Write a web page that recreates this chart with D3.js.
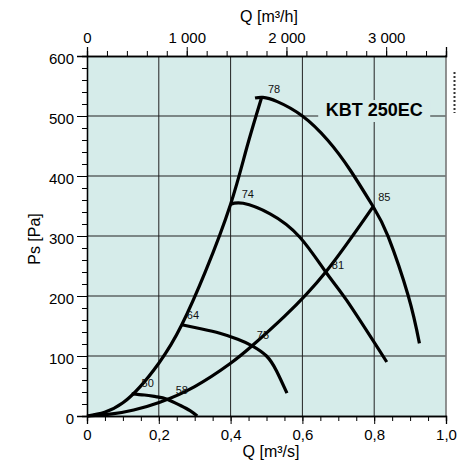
<!DOCTYPE html>
<html>
<head>
<meta charset="utf-8">
<script src="https://cdn.jsdelivr.net/npm/d3@7"></script>
<style>
  html, body { margin: 0; padding: 0; background: #ffffff; }
  svg { display: block; font-family: "Liberation Sans", Arial, sans-serif; }
</style>
</head>
<body>
<svg id="chart" width="457" height="463"></svg>
<script>
// ---- data ----
const xTickValues = [0, 0.2, 0.4, 0.6, 0.8, 1.0];
const xTickLabels = ["0", "0,2", "0,4", "0,6", "0,8", "1,0"];
const yTickValues = [0, 100, 200, 300, 400, 500, 600];
const topTickValues = [0, 1000, 2000, 3000];
const topTickLabels = ["0", "1 000", "2 000", "3 000"];

// system curves (Q m³/s, Ps Pa)
const sysHighQ = [0, 0.1, 0.2, 0.264, 0.33, 0.40, 0.445, 0.486];
const sysHighP = [0, 22, 88, 152, 241, 353, 447, 530];
const sysLowQ = [0, 0.07, 0.13, 0.203, 0.3, 0.398, 0.46, 0.55, 0.665, 0.797];
const sysLowP = [0, 3.5, 10, 23, 49, 87, 117, 166, 240, 349];

// fan curves
const fan50Q = [0.1245, 0.16, 0.194, 0.223, 0.259, 0.287, 0.307];
const fan50P = [37, 35, 32, 28, 18, 9, 0];
const fan64Q = [0.264, 0.32, 0.37, 0.42, 0.46, 0.5, 0.528, 0.557];
const fan64P = [152, 145, 138, 128, 117, 100, 75, 38];
const fan74Q = [0.400, 0.435, 0.51, 0.593, 0.665, 0.723, 0.835];
const fan74P = [353, 354.5, 337, 298, 240, 193, 90];
const fan78Q = [0.468, 0.49, 0.53, 0.6, 0.67, 0.733, 0.797, 0.839, 0.895, 0.926];
const fan78P = [530, 531, 524, 500, 460, 410, 349, 299, 200, 121];

// point labels (sound levels) anchored in data units
const labelText = ["78", "85", "74", "81", "64", "75", "50", "58"];
const labelQ = [0.504, 0.811, 0.431, 0.682, 0.278, 0.473, 0.152, 0.247];
const labelP = [538, 359, 363, 244.5, 161, 128, 48, 37];

const modelName = "KBT 250EC";
const modelQ = 0.8, modelP = 500;

// ---- drawing ----
const svg = d3.select("#chart");
const x = d3.scaleLinear().domain([0, 1]).range([87, 446]);
const y = d3.scaleLinear().domain([0, 600]).range([416, 56]);
const xTop = d3.scaleLinear().domain([0, 3600]).range([87, 446]);

const bg = "#d6ecea";
const ink = "#000";

// background
svg.append("rect")
  .attr("x", x(0)).attr("y", y(600))
  .attr("width", x(1) - x(0)).attr("height", y(0) - y(600))
  .attr("fill", bg);

// grid
const grid = svg.append("g").attr("stroke", "#222").attr("stroke-width", 1);
[100, 200, 300, 400, 500].forEach(v => {
  grid.append("line").attr("x1", x(0)).attr("x2", x(1)).attr("y1", y(v)).attr("y2", y(v));
});
[0.2, 0.4, 0.6, 0.8].forEach(v => {
  grid.append("line").attr("x1", x(v)).attr("x2", x(v)).attr("y1", y(600)).attr("y2", y(0));
});
// right border
svg.append("line").attr("x1", x(1)).attr("x2", x(1)).attr("y1", y(600) - 1).attr("y2", y(0))
  .attr("stroke", "#777").attr("stroke-width", 1.6);

// axes
const bottomMinor = d3.range(0, 1.0001, 0.05);
const leftMinor = d3.range(0, 600.001, 20);
const topMinor = d3.range(0, 3600.001, 200);

const axB = d3.axisBottom(x).tickValues(xTickValues).tickSize(8).tickPadding(8)
  .tickFormat((d, i) => xTickLabels[i]);
const gB = svg.append("g").attr("transform", `translate(0,${y(0)})`).call(axB);
const axBm = d3.axisBottom(x).tickValues(bottomMinor).tickSize(5).tickFormat("");
svg.append("g").attr("transform", `translate(0,${y(0)})`).call(axBm);

const axL = d3.axisLeft(y).tickValues(yTickValues).tickSize(10).tickPadding(3);
const gL = svg.append("g").attr("transform", `translate(${x(0)},0)`).call(axL);
const axLm = d3.axisLeft(y).tickValues(leftMinor).tickSize(5).tickFormat("");
svg.append("g").attr("transform", `translate(${x(0)},0)`).call(axLm);

const axT = d3.axisTop(xTop).tickValues(topTickValues).tickSize(9).tickPadding(0)
  .tickFormat((d, i) => topTickLabels[i]);
const gT = svg.append("g").attr("transform", `translate(0,${y(600)})`).call(axT);
const axTm = d3.axisTop(xTop).tickValues(topMinor).tickSize(5).tickFormat("");
svg.append("g").attr("transform", `translate(0,${y(600)})`).call(axTm);

svg.selectAll(".domain").attr("stroke", ink).attr("stroke-width", 1.3);
svg.selectAll(".tick line").attr("stroke", ink).attr("stroke-width", 1);
svg.selectAll(".tick text").attr("font-size", 15).attr("fill", ink)
  .attr("font-family", "'Liberation Sans', Arial, sans-serif");
gL.selectAll(".tick text").attr("dy", "0.5em");
gB.selectAll(".tick text").attr("dy", "0.5em");
gT.selectAll(".tick text").attr("dy", "-0.3em");

// axis titles
svg.append("text").attr("x", 269).attr("y", 22).attr("text-anchor", "middle")
  .attr("font-size", 16).text("Q [m³/h]");
svg.append("text").attr("x", 271).attr("y", 457).attr("text-anchor", "middle")
  .attr("font-size", 16).text("Q [m³/s]");
svg.append("text").attr("transform", "translate(40,239) rotate(-90)").attr("text-anchor", "middle")
  .attr("font-size", 16).text("Ps [Pa]");

// model name with halo box
const mx = x(modelQ), my = y(modelP);
svg.append("rect").attr("x", mx - 56).attr("y", my - 16).attr("width", 112).attr("height", 22)
  .attr("fill", bg);
svg.append("text").attr("x", mx).attr("y", my).attr("text-anchor", "middle")
  .attr("font-size", 18).attr("font-weight", "bold").text(modelName);

// curves
const line = d3.line().x(d => x(d[0])).y(d => y(d[1])).curve(d3.curveNatural);
const zip = (a, b) => a.map((v, i) => [v, b[i]]);
const curves = [
  zip(sysHighQ, sysHighP), zip(sysLowQ, sysLowP),
  zip(fan50Q, fan50P), zip(fan64Q, fan64P), zip(fan74Q, fan74P), zip(fan78Q, fan78P)
];
svg.append("g").selectAll("path").data(curves).join("path")
  .attr("d", line).attr("fill", "none").attr("stroke", ink)
  .attr("stroke-width", 3.2).attr("stroke-linejoin", "round");

// labels
svg.append("g").selectAll("text").data(labelText).join("text")
  .attr("x", (d, i) => x(labelQ[i])).attr("y", (d, i) => y(labelP[i]))
  .attr("font-size", 11).attr("fill", "#111").text(d => d);

// clipped edge decoration at far right
svg.append("line").attr("x1", 454.5).attr("x2", 454.5).attr("y1", 72).attr("y2", 113)
  .attr("stroke", "#333").attr("stroke-width", 2).attr("stroke-dasharray", "2,2");
</script>
</body>
</html>
